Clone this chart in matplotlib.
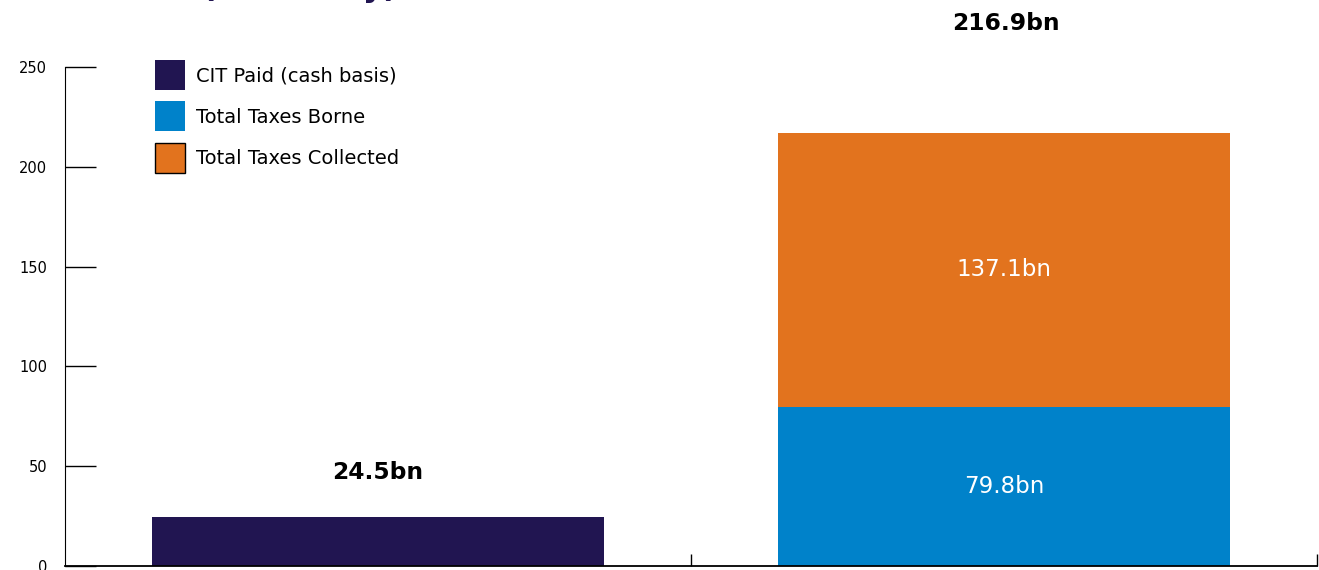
import matplotlib.pyplot as plt
import numpy as np
from matplotlib.patches import Patch

# values in bn
series = ['CIT Paid (cash basis)', 'Total Taxes Borne', 'Total Taxes Collected']
cit_paid = [24.5, 0]
taxes_borne = [0, 79.8]
taxes_collected = [0, 137.1]
total_labels = ['24.5bn', '216.9bn']
label_pad = [22.5, 55.0]
yticks = [0, 50, 100, 150, 200, 250]

NAVY = '#211551'
BLUE = '#0082CA'
ORANGE = '#E2731E'


def plotter():
	plt.rcParams['font.family'] = ['DejaVu Sans']
	fig = plt.figure(figsize=(13.19, 5.70), dpi=100)
	ax = fig.add_axes([65 / 1319, 4 / 570, 1252 / 1319, 499 / 570])

	x = np.arange(len(cit_paid))
	w = 0.722
	cit = np.array(cit_paid)
	borne = np.array(taxes_borne)
	coll = np.array(taxes_collected)

	ax.bar(x[0], cit[0], width=w, color=NAVY)
	ax.bar(x[1], borne[1], width=w, color=BLUE)
	ax.bar(x[1], coll[1], width=w, bottom=borne[1], color=ORANGE)

	totals = cit + borne + coll
	for i in range(len(x)):
		ax.text(x[i] + 0.003 * i, totals[i] + label_pad[i], total_labels[i], ha='center', va='center',
				fontsize=16.8, fontweight='bold', color='black', clip_on=False)
	ax.text(x[1], borne[1] / 2, '%.1fbn' % borne[1], ha='center', va='center', fontsize=16.5, color='white')
	ax.text(x[1], borne[1] + coll[1] / 2, '%.1fbn' % coll[1], ha='center', va='center', fontsize=16.5, color='white')

	ax.set_xlim(-0.5, 1.5)
	ax.set_ylim(0, 250)
	ax.set_yticks(yticks)
	ax.tick_params(axis='y', direction='in', length=22, width=1, pad=13, labelsize=10.5)
	ax.set_xticks([])
	ax.set_xticks([0.5, 1.5], minor=True)
	ax.tick_params(axis='x', which='minor', direction='in', length=9, width=1)
	ax.spines['top'].set_visible(False)
	ax.spines['right'].set_visible(False)
	ax.spines['bottom'].set_linewidth(1.3)

	handles = [Patch(facecolor=NAVY, edgecolor='none'),
			   Patch(facecolor=BLUE, edgecolor='none'),
			   Patch(facecolor=ORANGE, edgecolor='black', linewidth=1)]
	ax.legend(handles, series, loc='upper left', bbox_to_anchor=(90 / 1252, 1 + 7 / 499),
			  frameon=False, fontsize=14, handlelength=1.55, handleheight=2.0,
			  handletextpad=0.55, labelspacing=0.58, borderpad=0, borderaxespad=0)

	# title runs off the top of the picture
	fig.text(398 / 1319, 1 + 3 / 570, 'Tax Contribution (Summary)', ha='right', va='baseline',
			 fontsize=22.5, fontweight='bold', color=NAVY)

	fig.savefig('out.png', dpi=100)


if __name__ == '__main__':
	plotter()
